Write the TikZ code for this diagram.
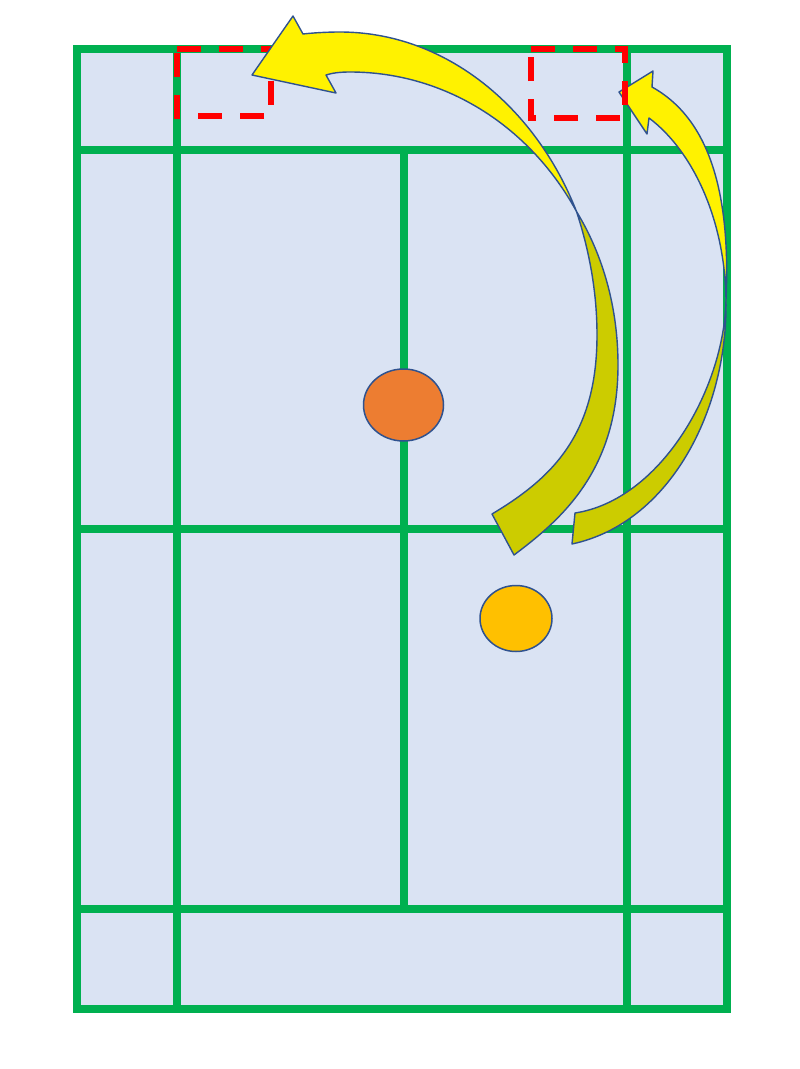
\documentclass[tikz,border=0pt]{standalone}
\usetikzlibrary{shapes.geometric}
\definecolor{court}{HTML}{DAE3F3}
\definecolor{grn}{HTML}{00B050}
\definecolor{edgeblue}{HTML}{2F528F}
\definecolor{olive}{HTML}{CCCC00}
\definecolor{orng}{HTML}{ED7D31}
\definecolor{gold}{HTML}{FFC000}
\definecolor{redline}{HTML}{FF0000}
\begin{document}
\begin{tikzpicture}[x=1pt,y=-1pt,
  courtline/.style={draw=grn, line width=7.8pt, line cap=rect},
  zonebox/.style={draw=redline, line width=5.5pt, dash pattern=on 24pt off 18pt},
  ball/.style={ellipse, draw=edgeblue, line width=1.5pt, inner sep=0pt},
  arrowline/.style={draw=edgeblue, line width=1.4pt, line join=round}]
\useasboundingbox (0,0) rectangle (800,1069);
% court
\fill[court] (77,49) rectangle (727,1009);
\draw[courtline] (77,49) rectangle (727,1009);
\draw[courtline] (77,150) -- (727,150);
\draw[courtline] (77,529) -- (727,529);
\draw[courtline] (77,909) -- (727,909);
\draw[courtline] (177,49) -- (177,1009);
\draw[courtline] (627,49) -- (627,1009);
\draw[courtline] (404,150) -- (404,909);
% balls
\node[ball, fill=orng, minimum width=80pt, minimum height=72pt] (ballA) at (403.5,405) {};
\node[ball, fill=gold, minimum width=72pt, minimum height=66pt] (ballB) at (516,618.5) {};
% crossing points of the twisted ribbons
\coordinate (bigX) at (576.5,211.5);
\coordinate (smallX) at (726,300);
% small arrow: back face
\filldraw[arrowline, fill=olive]
  (smallX) .. controls (724,390) and (660,500) .. (575,513)
  -- (572,544)
  .. controls (670,523) and (728,410) .. (smallX) -- cycle;
% small arrow: front face with head
\filldraw[arrowline, fill=yellow]
  (smallX) .. controls (731,190) and (708,118) .. (652,87)
  -- (653,71) -- (619,92) -- (647,134) -- (649,118)
  .. controls (693,151) and (725,220) .. (smallX) -- cycle;
% red dashed zones
\draw[zonebox] (177,49) -- (271,49) -- (271,116) -- (177,116) -- cycle;
\draw[zonebox] (531,49) -- (625,49) -- (625,118) -- (531,118) -- cycle;
% big arrow: back face
\filldraw[arrowline, fill=olive]
  (bigX) .. controls (589.2,250.3) and (597,291.6) .. (597,335)
  .. controls (597,435) and (552,478) .. (492,514)
  -- (514,555)
  .. controls (562,519) and (618,470) .. (618,365)
  .. controls (618,308.3) and (603.3,255.4) .. (bigX) -- cycle;
% big arrow: front face with head
\filldraw[arrowline, fill=yellow]
  (bigX) .. controls (535.4,106.4) and (445.1,32) .. (340,32)
  .. controls (325,32) and (312,33) .. (303,34)
  -- (293,16) -- (252,75) -- (336,93) -- (326,75)
  .. controls (332,73) and (340,72) .. (350,72)
  .. controls (446.2,72) and (530.6,127.3) .. (bigX) -- cycle;
\end{tikzpicture}
\end{document}
